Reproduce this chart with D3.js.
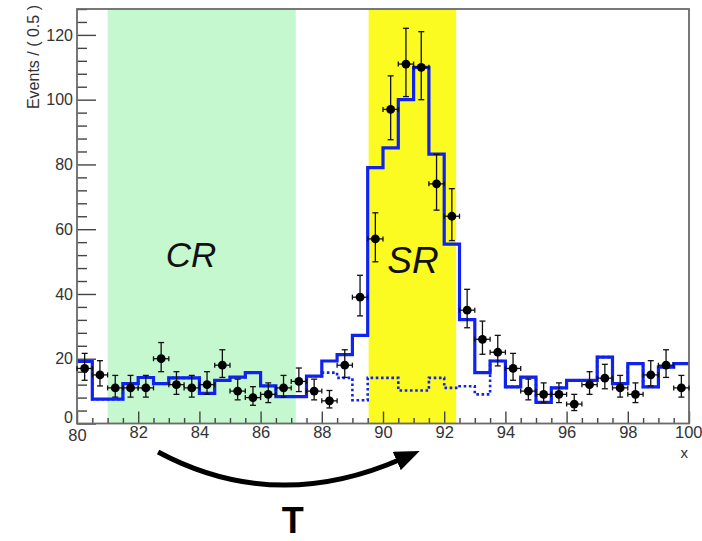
<!DOCTYPE html>
<html><head><meta charset="utf-8">
<script src="https://cdn.jsdelivr.net/npm/d3@7"></script>
<style>
body{margin:0;background:#fff}
svg{display:block;font-family:"Liberation Sans",Arial,Helvetica,sans-serif}
</style>
</head><body>
<svg id="chart" width="702" height="541"></svg>
<script>
// ---- data ----
const binCenters = [80.25,80.75,81.25,81.75,82.25,82.75,83.25,83.75,84.25,84.75,
  85.25,85.75,86.25,86.75,87.25,87.75,88.25,88.75,89.25,89.75,
  90.25,90.75,91.25,91.75,92.25,92.75,93.25,93.75,94.25,94.75,
  95.25,95.75,96.25,96.75,97.25,97.75,98.25,98.75,99.25,99.75];
const dataCounts = [17,15,11,11,11,20,12,11,12,18,
  10,8,9,11,13,10,7,18,39,57,
  97,111,110,74,64,35,26,22,17,10,
  9,9,6,12,14,11,9,15,18,11];
const modelTotal = [19.2,7.5,7.5,12.3,14.2,12.3,14.1,14.1,9.3,13.3,
  14.3,15.7,11.6,8.3,8.3,14.6,19.3,21.3,27.2,79,
  85.1,100,110,83.2,55.4,32.1,15.7,19.3,11.3,14.3,
  6.5,11,13.3,13.3,20.5,12.3,18.5,11.3,17.4,18.5];
const modelBkg = [19.2,7.5,7.5,12.3,14.2,12.3,14.1,14.1,9.3,13.3,
  14.3,15.7,11.6,8.3,8.3,14.6,15.7,14.1,7.2,14.1,
  14.1,10.2,10.2,14.1,11.0,11.5,9.0,19.3,11.3,14.3,
  6.5,11,13.3,13.3,20.5,12.3,18.5,11.3,17.4,18.5];
const xTickValues = [80,82,84,86,88,90,92,94,96,98,100];
const yTickValues = [0,20,40,60,80,100,120];
const controlRegion = [81.0, 87.15];
const signalRegion = [89.53, 92.39];
const binWidth = 0.5;

// ---- layout ----
const W = 702, H = 541;
const L = 77, R = 689, T = 9, B = 423.5;
const svg = d3.select("#chart");
const x = d3.scaleLinear().domain([80,100]).range([L,R]);
const y = d3.scaleLinear().domain([0,128]).range([B,T]);

const blue = "#1022ee";

// bands
svg.append("rect").attr("x", x(controlRegion[0])).attr("y", T)
  .attr("width", x(controlRegion[1]) - x(controlRegion[0])).attr("height", B - T)
  .attr("fill", "#c6f8cf");
svg.append("rect").attr("x", x(signalRegion[0])).attr("y", T)
  .attr("width", x(signalRegion[1]) - x(signalRegion[0])).attr("height", B - T)
  .attr("fill", "#fbfb22");

// region labels
svg.append("text").attr("x", x(83.73)).attr("y", y(48.3))
  .attr("text-anchor","middle").attr("font-size",35).attr("font-style","italic")
  .attr("fill","#111").text("CR");
svg.append("text").attr("x", x(90.98)).attr("y", y(46.4))
  .attr("text-anchor","middle").attr("font-size",37).attr("font-style","italic")
  .attr("fill","#111").text("SR");

// histograms (step)
function stepPoints(vals){
  const pts = binCenters.map((c,i)=>[c - binWidth/2, vals[i]]);
  pts.push([binCenters[binCenters.length-1] + binWidth/2, vals[vals.length-1]]);
  return pts;
}
const stepLine = d3.line().x(d=>x(d[0])).y(d=>y(d[1])).curve(d3.curveStepAfter);

svg.append("path").attr("d", stepLine(stepPoints(modelBkg)))
  .attr("fill","none").attr("stroke",blue).attr("stroke-width",2.6)
  .attr("stroke-dasharray","2.6,2.6");
svg.append("path").attr("d", stepLine(stepPoints(modelTotal)))
  .attr("fill","none").attr("stroke",blue).attr("stroke-width",3.2)
  .attr("stroke-linejoin","miter");

// axes
const axisColor = "#444";
const yAxis = svg.append("g").attr("transform",`translate(${L},0)`)
  .call(d3.axisLeft(y).tickValues(yTickValues).tickSize(-19).tickPadding(4));
const yMinor = svg.append("g").attr("transform",`translate(${L},0)`)
  .call(d3.axisLeft(y).tickValues(d3.range(0,129,4).filter(v=>v%20!==0)).tickSize(-10).tickFormat(""));
const xAxis = svg.append("g").attr("transform",`translate(0,${B})`)
  .call(d3.axisBottom(x).tickValues(xTickValues).tickSize(-12).tickPadding(3));
const xMinor = svg.append("g").attr("transform",`translate(0,${B})`)
  .call(d3.axisBottom(x).tickValues(d3.range(80,100.01,0.5).filter(v=>v%2!==0)).tickSize(-5.5).tickFormat(""));
[yAxis,yMinor,xAxis,xMinor].forEach(g=>{
  g.select(".domain").remove();
  g.selectAll(".tick line").attr("stroke",axisColor).attr("stroke-width",1.4);
  g.selectAll(".tick text").attr("fill","#333").attr("font-family",null);
});
yAxis.selectAll(".tick text").attr("font-size",16);
yAxis.selectAll(".tick text").filter(d=>d===0).attr("dy","-0.05em");
xAxis.selectAll(".tick text").attr("font-size",16.5);
xAxis.selectAll(".tick text").filter(d=>d===100).attr("text-anchor","end").attr("dx","13");
xAxis.selectAll(".tick text").filter(d=>d===80).attr("dy","0.85em");

// frame
svg.append("rect").attr("x",L).attr("y",T).attr("width",R-L).attr("height",B-T)
  .attr("fill","none").attr("stroke","#6a6a6a").attr("stroke-width",1.8);

// axis titles
svg.append("text").attr("transform",`translate(39,5) rotate(-90)`)
  .attr("text-anchor","end").attr("font-size",16).attr("fill","#333")
  .text("Events / ( 0.5 )");
svg.append("text").attr("x",R-1).attr("y",458).attr("text-anchor","end")
  .attr("font-size",15).attr("fill","#333").text("x");

// data points with Poisson errors
const pts = svg.append("g");
binCenters.forEach((c,i)=>{
  const n = dataCounts[i];
  const s = Math.sqrt(n + 0.25);
  const lo = n - (s - 0.5), hi = n + (s + 0.5);
  const cx = x(c), cy = y(n);
  const g = pts.append("g").attr("stroke","#111").attr("stroke-width",1.3);
  g.append("line").attr("x1",cx).attr("x2",cx).attr("y1",y(lo)).attr("y2",y(hi));
  g.append("line").attr("x1",cx-3).attr("x2",cx+3).attr("y1",y(lo)).attr("y2",y(lo));
  g.append("line").attr("x1",cx-3).attr("x2",cx+3).attr("y1",y(hi)).attr("y2",y(hi));
  const xl = x(c - binWidth/2), xr = x(c + binWidth/2);
  g.append("line").attr("x1",xl).attr("x2",xr).attr("y1",cy).attr("y2",cy);
  g.append("line").attr("x1",xl).attr("x2",xl).attr("y1",cy-2.5).attr("y2",cy+2.5);
  g.append("line").attr("x1",xr).attr("x2",xr).attr("y1",cy-2.5).attr("y2",cy+2.5);
  pts.append("circle").attr("cx",cx).attr("cy",cy).attr("r",4.4).attr("fill","#000");
});

// transfer arrow annotation
const defs = svg.append("defs");
defs.append("marker").attr("id","ah").attr("viewBox","0 0 10 8")
  .attr("refX",2).attr("refY",4).attr("markerWidth",5).attr("markerHeight",4)
  .attr("orient","auto").attr("markerUnits","strokeWidth")
  .append("path").attr("d","M0,0 L10,4 L0,8 z").attr("fill","#000");
const ax0 = x(82.65), ax1 = x(90.6), axc = x(86.46);
svg.append("path")
  .attr("d",`M${ax0},${B+28.5} Q${axc},${B+91} ${ax1},${B+35.5}`)
  .attr("fill","none").attr("stroke","#000").attr("stroke-width",5)
  .attr("marker-end","url(#ah)");
svg.append("text").attr("x", x(87.05)).attr("y", 533)
  .attr("text-anchor","middle").attr("font-size",36).attr("font-weight","bold")
  .attr("fill","#000").text("T");
</script>
</body></html>
